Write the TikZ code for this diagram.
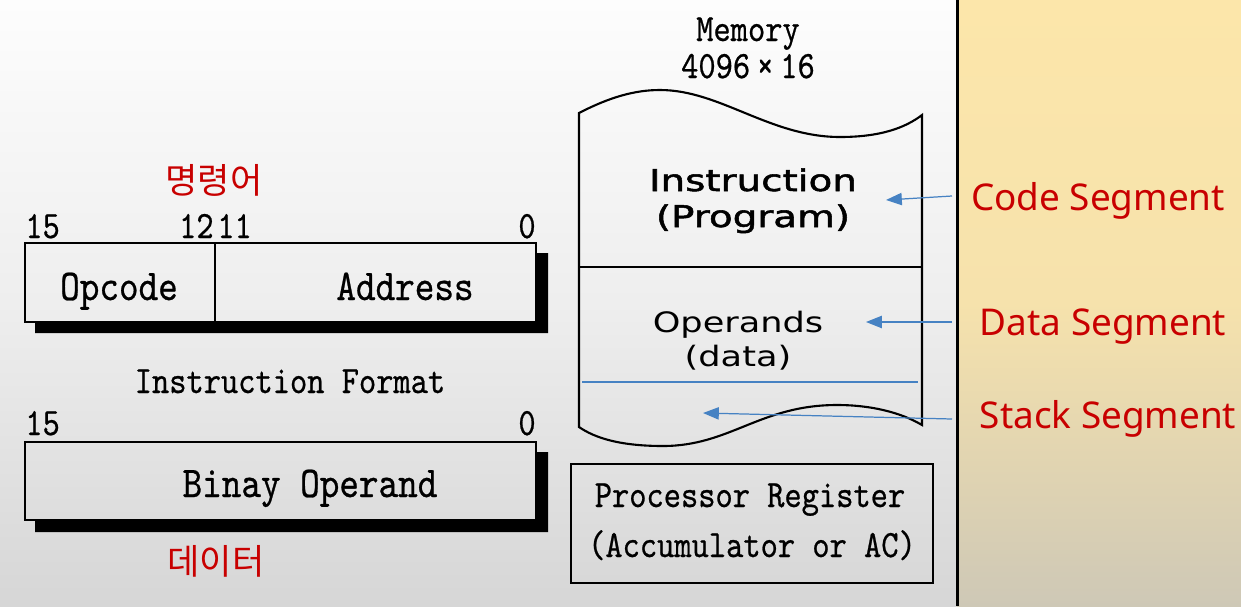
\documentclass[tikz,border=0pt]{standalone}
\usepackage{fontspec}
\setmonofont{lmmono10-regular.otf}[FakeStretch=0.85,FakeBold=0.6]
\newfontfamily\cjk{Noto Sans CJK KR}
\newfontfamily\segfont{Noto Sans}
\newfontfamily\instfont{DejaVu Sans}[FakeStretch=1.3,FakeBold=1.8]
\newfontfamily\opfont{DejaVu Sans}[FakeStretch=1.25]
\usetikzlibrary{arrows.meta}
\definecolor{segred}{RGB}{200,0,0}
\definecolor{arrblue}{RGB}{70,130,195}
\definecolor{bgtop}{RGB}{253,253,253}
\definecolor{bgmid}{RGB}{238,238,238}
\definecolor{bgbot}{RGB}{214,214,214}
\definecolor{yeltop}{RGB}{252,230,170}
\definecolor{yelmid}{RGB}{246,226,172}
\definecolor{yelbot}{RGB}{206,200,182}
\tikzset{
  x=0.02cm, y=-0.02cm,
  mono/.style={font=\ttfamily\fontsize{22}{26}\selectfont, inner sep=0pt, anchor=base},
  bigmono/.style={font=\ttfamily\fontsize{25}{29}\selectfont, inner sep=0pt, anchor=base},
  kor/.style={font=\cjk\fontsize{20}{23}\selectfont, text=segred, inner sep=0pt},
  seg/.style={font=\segfont\fontsize{21}{25}\selectfont, text=segred, inner sep=0pt, anchor=base},
  inst/.style={font=\instfont\fontsize{17}{20}\selectfont, inner sep=0pt, anchor=base},
  oper/.style={font=\opfont\fontsize{16}{19}\selectfont, inner sep=0pt, anchor=base},
  box/.style={draw=black, line width=1.1pt},
  shadow/.style={fill=black},
  arr/.style={draw=arrblue, line width=0.7pt, -{Triangle[length=9pt,width=7pt]}},
}
\begin{document}
\begin{tikzpicture}
\useasboundingbox (0,0) rectangle (1241,606);
% backgrounds
\fill[top color=bgtop, bottom color=bgbot, middle color=bgmid] (0,0) rectangle (957,606);
\fill[top color=yeltop, bottom color=yelbot, middle color=yelmid] (957,0) rectangle (1241,606);
\draw[line width=1.7pt] (957,0) -- (957,606);

% instruction format box
\fill[shadow] (536,253) -- (548,253) -- (548,333) -- (35,333) -- (35,322) -- (536,322) -- cycle;
\draw[box] (25,243) rectangle (536,322);
\draw[box] (215,243) -- (215,322);
\node[kor] (ming) at (214,180) {명령어};
\node[mono, anchor=base west] (b15a) at (25,238) {15};
\node[mono, anchor=base east] (b12) at (214,238) {12};
\node[mono, anchor=base west] (b11) at (217,238) {11};
\node[mono, anchor=base east] (b0a) at (536,238) {0};
\node[bigmono] (opcode) at (119,300) {Opcode};
\node[bigmono] (address) at (405,300) {Address};
\node[mono] (iformat) at (290,393) {Instruction Format};

% binary operand box
\fill[shadow] (536,452) -- (548,452) -- (548,532) -- (35,532) -- (35,520) -- (536,520) -- cycle;
\draw[box] (25,442) rectangle (536,520);
\node[mono, anchor=base west] (b15b) at (25,435) {15};
\node[mono, anchor=base east] (b0b) at (536,435) {0};
\node[bigmono] (binop) at (310,497) {Binay Operand};
\node[kor] (data) at (216,561) {데이터};

% memory
\node[mono] (memtitle) at (748,41) {Memory};
\node[mono] (memsize) at (748,78) {4096\,×\,16};
\draw[box, line width=1.2pt]
  (579,113) .. controls (610,97) and (635,90) .. (660,90)
  .. controls (720,90) and (770,137) .. (840,137)
  .. controls (880,137) and (905,128) .. (922,115)
  -- (922,425)
  .. controls (900,412) and (870,405) .. (837,405)
  .. controls (760,405) and (730,446) .. (663,446)
  .. controls (620,446) and (595,438) .. (579,427) -- cycle;
\draw[box] (579,267) -- (922,267);
\draw[arrblue, line width=0.6pt] (582,382) -- (918,382);
\node[inst] (instr) at (753,191) {Instruction};
\node[inst] (prog) at (753,227) {(Program)};
\node[oper] (operands) at (738,332) {Operands};
\node[oper] (datap) at (738,366) {(data)};

% processor register
\node[box, minimum width=7.24cm, minimum height=2.38cm] (preg) at (752,523.5) {};
\node[mono] (pregt) at (750,507) {Processor Register};
\node[mono] (acc) at (752,557) {(Accumulator or AC)};

% segment labels and arrows
\node[seg] (code) at (1098,210) {Code Segment};
\node[seg] (dseg) at (1103,335) {Data Segment};
\node[seg] (sseg) at (1108,428) {Stack Segment};
\coordinate (cs) at (952,196);
\coordinate (ct) at (886,200);
\coordinate (ds) at (952,322);
\coordinate (dt) at (866,322);
\coordinate (ss) at (952,419);
\coordinate (st) at (703,413);
\draw[arr] (cs) -- (ct);
\draw[arr] (ds) -- (dt);
\draw[arr] (ss) -- (st);
\end{tikzpicture}
\end{document}
